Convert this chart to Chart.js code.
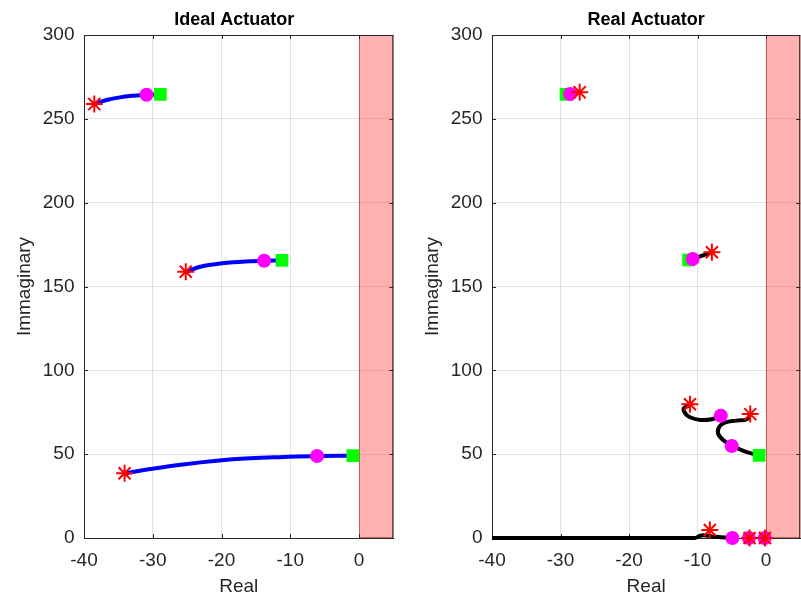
<!DOCTYPE html>
<html>
<head>
<meta charset="utf-8">
<script src="https://cdn.jsdelivr.net/npm/chart.js@4"></script>
<style>
  html, body { margin: 0; padding: 0; background: #fff; }
  #wrap { position: relative; width: 801px; height: 603px; }
  canvas { position: absolute; top: 0; }
  #ideal { left: 0; }
  #real { left: 400px; }
</style>
</head>
<body>
<div id="wrap">
  <canvas id="ideal" width="400" height="603"></canvas>
  <canvas id="real" width="401" height="603"></canvas>
</div>
<script>
// Axis ticks / ranges
const realTicks = [-40, -30, -20, -10, 0];
const imagTicks = [0, 50, 100, 150, 200, 250, 300];
const realRange = [-40, 5];
const imagRange = [0, 300];
const unstableRe = [0, 5];

// Ideal actuator: root locus branches
const idealRe1 = [-38.5, -36.7, -34.8, -32.8, -30.9, -28.9];
const idealIm1 = [258.8, 261.2, 262.8, 263.8, 264.4, 264.6];
const idealRe2 = [-25.2, -23.1, -20.7, -18.3, -15.9, -13.8, -11.2];
const idealIm2 = [158.8, 161.8, 163.4, 164.4, 165.0, 165.4, 165.6];
const idealRe3 = [-34.1, -30.4, -25.6, -20.7, -15.9, -11.0, -6.1, -0.9];
const idealIm3 = [38.6, 41.1, 43.9, 46.1, 47.5, 48.3, 48.9, 49.1];

// Ideal actuator markers
const idealStarRe = [-38.5, -25.2, -34.1];
const idealStarIm = [258.8, 158.8, 38.6];
const idealCircleRe = [-30.9, -13.8, -6.1];
const idealCircleIm = [264.4, 165.4, 48.9];
const idealSquareRe = [-28.9, -11.2, -0.9];
const idealSquareIm = [264.6, 165.6, 49.1];

// Real actuator: root locus branches
const realRe1 = [-28.6, -27.2];
const realIm1 = [264.8, 265.8];
const realRe2 = [-10.7, -7.9];
const realIm2 = [166.4, 170.4];
const realRe3 = [-11.1, -12.0, -11.8, -11.1, -9.6, -7.9, -6.7];
const realIm3 = [79.0, 77.3, 74.4, 72.0, 70.4, 70.8, 72.7];
const realRe4 = [-2.3, -2.8, -4.3, -6.0, -6.8, -7.0, -6.25, -5.0, -3.3, -1.6, -1.0];
const realIm4 = [73.9, 70.8, 70.0, 68.8, 66.4, 62.4, 58.4, 55.2, 51.9, 49.9, 49.3];
const realRe5 = [-40, -10.4, -9.8, -9.2, -8.0, -6.5, -4.9];
const realIm5 = [0, 0, 1.0, 1.7, 1.1, 0.4, 0];

// Real actuator markers
const realStarRe = [-27.2, -7.9, -11.1, -2.3, -8.2, -2.4, -0.15];
const realStarIm = [265.8, 170.4, 79.8, 73.9, 4.8, 0, 0];
const realCircleRe = [-28.6, -10.7, -6.6, -5.0, -4.9, -2.5, -0.2];
const realCircleIm = [264.8, 166.4, 72.9, 54.9, 0, 0, 0];
const realSquareRe = [-29.2, -11.3, -1.0];
const realSquareIm = [264.6, 165.8, 49.3];

const FONT = 'Liberation Sans, Arial, Helvetica, sans-serif';
const pts = (re, im) => re.map((v, i) => ({ x: v, y: im[i] }));

function branch(re, im, color) {
  return {
    data: pts(re, im), showLine: true, borderColor: color, borderWidth: 4,
    pointRadius: 0, tension: 0.4, clip: false, order: 4
  };
}

function markers(re, im, style, color, radius, order) {
  const star = style === 'star';
  return {
    data: pts(re, im), showLine: false, pointStyle: style, pointRadius: radius,
    backgroundColor: color, borderColor: color, borderWidth: star ? 2 : 0,
    clip: false, order: order
  };
}

// pink unstable half-plane, box frame, title
const framePlugin = {
  id: 'frame',
  beforeDatasetsDraw(chart, args, opts) {
    const { ctx, chartArea: a, scales: { x, y } } = chart;
    const x0 = x.getPixelForValue(unstableRe[0]);
    const x1 = x.getPixelForValue(unstableRe[1]);
    const yTop = y.getPixelForValue(imagRange[1]);
    const yBot = y.getPixelForValue(imagRange[0]);
    ctx.save();
    ctx.fillStyle = 'rgba(255, 0, 0, 0.31)';
    ctx.fillRect(x0, yTop, x1 - x0, yBot - yTop);
    ctx.strokeStyle = 'rgba(150, 0, 0, 0.45)';
    ctx.lineWidth = 1;
    ctx.strokeRect(x0 + 0.5, yTop + 0.5, x1 - x0 - 1, yBot - yTop - 1);
    ctx.strokeStyle = '#262626';
    ctx.strokeRect(a.left + 0.5, a.top + 0.5, a.right - a.left - 1, a.bottom - a.top);
    // inward tick marks
    ctx.beginPath();
    realTicks.forEach(v => {
      const px = Math.round(x.getPixelForValue(v)) + 0.5;
      ctx.moveTo(px, a.bottom); ctx.lineTo(px, a.bottom - 4);
      ctx.moveTo(px, a.top); ctx.lineTo(px, a.top + 4);
    });
    imagTicks.forEach(v => {
      const py = Math.round(y.getPixelForValue(v)) + 0.5;
      ctx.moveTo(a.left, py); ctx.lineTo(a.left + 4, py);
      ctx.moveTo(a.right, py); ctx.lineTo(a.right - 4, py);
    });
    ctx.stroke();
    // title
    ctx.fillStyle = '#000';
    ctx.font = 'bold 18px ' + FONT;
    ctx.textAlign = 'center';
    ctx.textBaseline = 'middle';
    ctx.fillText(opts.text, (a.left + a.right) / 2 + opts.shift, 20.5);
    ctx.restore();
  }
};

function makeChart(id, title, titleShift, datasets, yWidth, yTitlePad, yTickPad, padRight) {
  return new Chart(document.getElementById(id), {
    type: 'scatter',
    data: { datasets: datasets },
    options: {
      responsive: false,
      animation: false,
      layout: { autoPadding: false, padding: { left: 0, right: padRight, top: 35, bottom: 0 } },
      plugins: {
        legend: { display: false },
        tooltip: { enabled: false },
        title: { display: false },
        frame: { text: title, shift: titleShift }
      },
      scales: {
        x: {
          type: 'linear', min: realRange[0], max: realRange[1],
          afterBuildTicks: s => { s.ticks = realTicks.map(v => ({ value: v })); },
          afterFit: s => { s.height = 65; },
          ticks: { color: '#262626', font: { family: FONT, size: 19 }, padding: 11 },
          grid: { color: 'rgba(0,0,0,0.11)', drawTicks: false },
          border: { color: '#262626' },
          title: {
            display: true, text: 'Real', color: '#262626',
            font: { family: FONT, size: 19 }, padding: { top: 0, bottom: 4.6 }
          }
        },
        y: {
          type: 'linear', min: imagRange[0], max: imagRange[1],
          afterBuildTicks: s => { s.ticks = imagTicks.map(v => ({ value: v })); },
          afterFit: s => { s.width = yWidth; },
          ticks: { color: '#262626', font: { family: FONT, size: 19 }, padding: yTickPad },
          grid: { color: 'rgba(0,0,0,0.11)', drawTicks: false },
          border: { color: '#262626' },
          title: {
            display: true, text: 'Immaginary', color: '#262626',
            font: { family: FONT, size: 19 }, padding: { top: yTitlePad, bottom: 0 }
          }
        }
      }
    },
    plugins: [framePlugin]
  });
}

makeChart('ideal', 'Ideal Actuator', -4.5, [
  markers(idealStarRe, idealStarIm, 'star', '#ff0000', 8.5, 1),
  markers(idealCircleRe, idealCircleIm, 'circle', '#ff00ff', 7, 2),
  markers(idealSquareRe, idealSquareIm, 'rect', '#00ff00', 9, 3),
  branch(idealRe1, idealIm1, '#0000ff'),
  branch(idealRe2, idealIm2, '#0000ff'),
  branch(idealRe3, idealIm3, '#0000ff')
], 84, 13.6, 9.5, 6.6);

makeChart('real', 'Real Actuator', 0, [
  markers(realStarRe, realStarIm, 'star', '#ff0000', 8.5, 1),
  markers(realCircleRe, realCircleIm, 'circle', '#ff00ff', 7, 2),
  markers(realSquareRe, realSquareIm, 'rect', '#00ff00', 9, 3),
  branch(realRe1, realIm1, '#000000'),
  branch(realRe2, realIm2, '#000000'),
  branch(realRe3, realIm3, '#000000'),
  branch(realRe4, realIm4, '#000000'),
  branch(realRe5, realIm5, '#000000')
], 92, 21.6, 9.5, 0.75);
</script>
</body>
</html>
